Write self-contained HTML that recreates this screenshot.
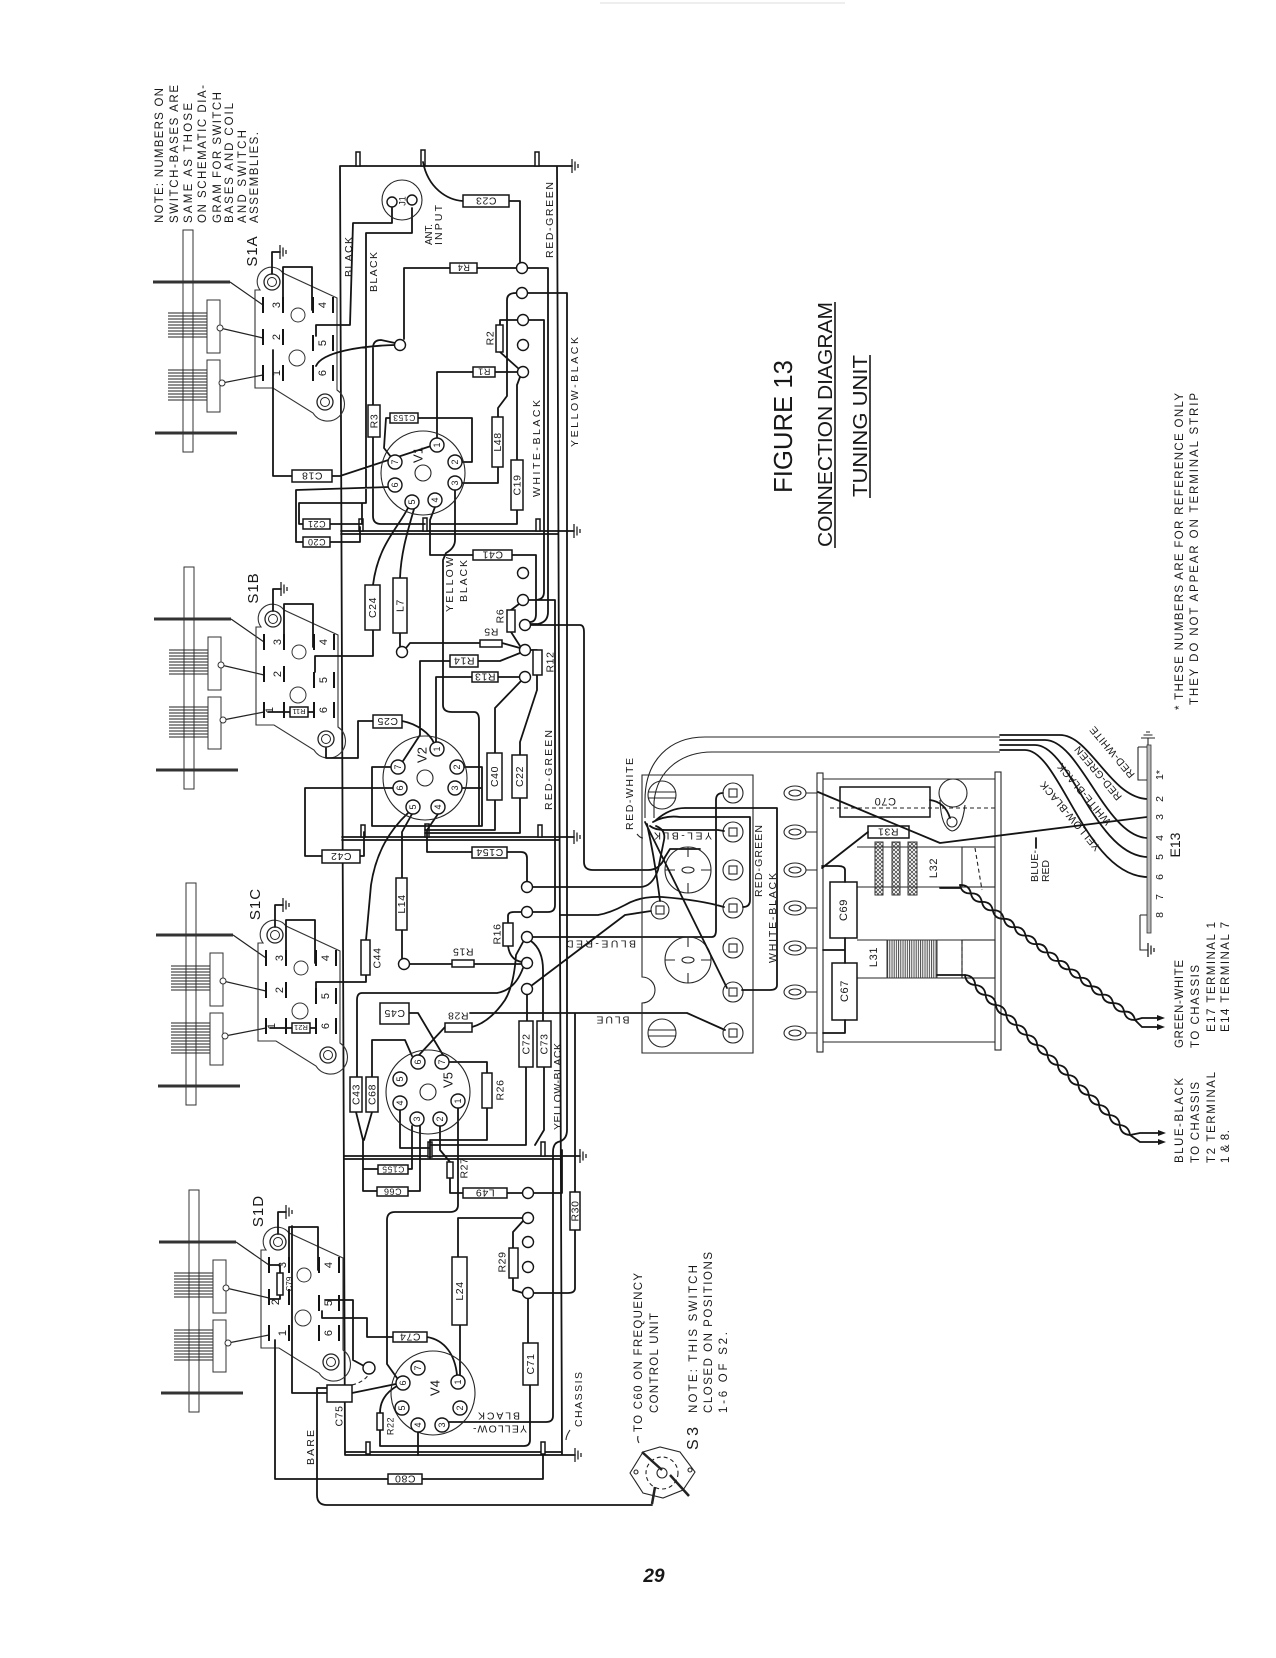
<!DOCTYPE html>
<html><head><meta charset="utf-8"><style>
html,body{margin:0;padding:0;background:#fff}
svg{display:block}
text{font-family:"Liberation Sans",Arial,sans-serif;fill:#181818}
.w{fill:none;stroke:#141414;stroke-width:1.8;stroke-linejoin:round;stroke-linecap:round}
.t{fill:none;stroke:#262626;stroke-width:1.1}
.b{fill:#fff;stroke:#141414;stroke-width:1.5}
.n{fill:#fff;stroke:#141414;stroke-width:1.4}
.c{font-size:10.5px;letter-spacing:0.6px}
.p{font-size:9px}
.d{fill:none;stroke:#222;stroke-width:1.1;stroke-dasharray:4 3}
</style></head><body>
<svg width="1276" height="1658" viewBox="0 0 1276 1658" xmlns="http://www.w3.org/2000/svg" xmlns:xlink="http://www.w3.org/1999/xlink">
<defs>
<g id="gr"><path d="M0,-7 V7 M3,-4.5 V4.5 M6,-2 V2" stroke="#222" stroke-width="1.3" fill="none"/></g>
<pattern id="hx" width="4" height="4" patternUnits="userSpaceOnUse"><path d="M0,0 L4,4 M4,0 L0,4" stroke="#333" stroke-width="0.7"/></pattern>
<pattern id="vl" width="2.2" height="4" patternUnits="userSpaceOnUse"><path d="M1,0 V4" stroke="#333" stroke-width="0.9"/></pattern>
<g id="sw">
<rect x="-89" y="-52" width="10" height="222" fill="#fff" stroke="#333"/>
<path d="M-104,31 H-65 M-104,34 H-65 M-104,37 H-65 M-104,40 H-65 M-104,43 H-65 M-104,46 H-65 M-104,49 H-65 M-104,52 H-65 M-104,55 H-65 M-104,88 H-65 M-104,91 H-65 M-104,94 H-65 M-104,97 H-65 M-104,100 H-65 M-104,103 H-65 M-104,106 H-65 M-104,109 H-65 M-104,112 H-65 M-104,115 H-65 M-104,118 H-65" stroke="#222" stroke-width="1"/>
<path d="M-119,0 H-42 M-117,151 H-35" stroke="#333" stroke-width="3"/>
<rect x="-65" y="18" width="13" height="53" fill="#fff" stroke="#333"/>
<rect x="-65" y="78" width="13" height="52" fill="#fff" stroke="#333"/>
<path d="M-52,46 L-9,56 M-50,101 L-9,93 M-42,0 L-9,23" stroke="#222" stroke-width="1.2"/>
<circle cx="-52" cy="46" r="3" fill="#fff" stroke="#333"/>
<circle cx="-50" cy="101" r="3" fill="#fff" stroke="#333"/>
<path d="M-17,8 L-12,8 A14,14 0 0 1 11,-9 L65,16 L65,108 A17,17 0 1 1 41,131 L1,106 L-17,106 Z" fill="none" stroke="#333" stroke-width="1.1"/>
<circle cx="0" cy="0" r="8" fill="#fff" stroke="#222" stroke-width="1.3"/><circle cx="0" cy="0" r="4.5" fill="none" stroke="#222"/>
<circle cx="53" cy="120" r="8" fill="#fff" stroke="#222" stroke-width="1.3"/><circle cx="53" cy="120" r="4.5" fill="none" stroke="#222"/>
<circle cx="26" cy="33" r="7" fill="none" stroke="#333"/>
<circle cx="25" cy="76" r="8" fill="none" stroke="#333"/>
<path d="M-9,15 V31 M-9,47 V63 M-9,83 V99 M41,15 V31 M41,53 V69 M41,83 V99 M11,15 V31 M11,47 V63 M11,83 V99 M61,15 V31 M61,53 V69 M61,83 V99" stroke="#141414" stroke-width="2"/>
<path d="M0,-8 V-30 H8 M11,25 V-15 H40 V28" class="w"/>
<use href="#gr" xlink:href="#gr" x="8" y="-30"/>
</g>
</defs>
<rect width="1276" height="1658" fill="#fff"/>
<path d="M600,3 H845" stroke="#ddd" stroke-width="1"/>

<!-- LEFT NOTE -->
<g font-size="11.5">
<text transform="translate(163,223) rotate(-90)" textLength="135" lengthAdjust="spacing">NOTE: NUMBERS ON</text>
<text transform="translate(178,223) rotate(-90)" textLength="138" lengthAdjust="spacing">SWITCH-BASES ARE</text>
<text transform="translate(192,223) rotate(-90)" textLength="120" lengthAdjust="spacing">SAME AS THOSE</text>
<text transform="translate(206,223) rotate(-90)" textLength="138" lengthAdjust="spacing">ON SCHEMATIC DIA-</text>
<text transform="translate(221,223) rotate(-90)" textLength="131" lengthAdjust="spacing">GRAM FOR SWITCH</text>
<text transform="translate(233,223) rotate(-90)" textLength="120" lengthAdjust="spacing">BASES AND COIL</text>
<text transform="translate(246,223) rotate(-90)" textLength="93" lengthAdjust="spacing">AND SWITCH</text>
<text transform="translate(258,223) rotate(-90)" textLength="91" lengthAdjust="spacing">ASSEMBLIES.</text>
</g>

<!-- TITLE -->
<text transform="translate(792,493) rotate(-90)" font-size="26" textLength="133" lengthAdjust="spacingAndGlyphs">FIGURE 13</text>
<text transform="translate(832,547) rotate(-90)" font-size="20" textLength="245" lengthAdjust="spacingAndGlyphs">CONNECTION DIAGRAM</text>
<text transform="translate(867,497) rotate(-90)" font-size="20" textLength="142" lengthAdjust="spacingAndGlyphs">TUNING UNIT</text>
<path d="M835,302 V548 M870,355 V498" stroke="#181818" stroke-width="1.6"/>

<g font-size="11.5">
<text transform="translate(1183,710) rotate(-90)" textLength="317" lengthAdjust="spacing">* THESE NUMBERS ARE FOR REFERENCE ONLY</text>
<text transform="translate(1198,705) rotate(-90)" textLength="312" lengthAdjust="spacing">THEY DO NOT APPEAR ON TERMINAL STRIP</text>
<text transform="translate(1183,1048) rotate(-90)" textLength="88" lengthAdjust="spacing">GREEN-WHITE</text>
<text transform="translate(1199,1048) rotate(-90)" textLength="83" lengthAdjust="spacing">TO CHASSIS</text>
<text transform="translate(1215,1032) rotate(-90)" textLength="110" lengthAdjust="spacing">E17 TERMINAL 1</text>
<text transform="translate(1229,1032) rotate(-90)" textLength="110" lengthAdjust="spacing">E14 TERMINAL 7</text>
<text transform="translate(1183,1163) rotate(-90)" textLength="85" lengthAdjust="spacing">BLUE-BLACK</text>
<text transform="translate(1199,1163) rotate(-90)" textLength="81" lengthAdjust="spacing">TO CHASSIS</text>
<text transform="translate(1215,1163) rotate(-90)" textLength="91" lengthAdjust="spacing">T2 TERMINAL</text>
<text transform="translate(1229,1163) rotate(-90)" textLength="33" lengthAdjust="spacing">1 &amp; 8.</text>
<text transform="translate(642,1432) rotate(-90)" textLength="159" lengthAdjust="spacing">TO C60 ON FREQUENCY</text>
<text transform="translate(658,1413) rotate(-90)" textLength="100" lengthAdjust="spacing">CONTROL UNIT</text>
<text transform="translate(697,1413) rotate(-90)" textLength="148" lengthAdjust="spacing">NOTE:  THIS SWITCH</text>
<text transform="translate(712,1413) rotate(-90)" textLength="161" lengthAdjust="spacing">CLOSED ON POSITIONS</text>
<text transform="translate(727,1413) rotate(-90)" textLength="81" lengthAdjust="spacing">1-6 OF S2.</text>
</g>
<text transform="translate(698,1450) rotate(-90)" font-size="16" textLength="23" lengthAdjust="spacing">S3</text>
<text x="654" y="1582" font-size="19" font-weight="bold" font-style="italic" text-anchor="middle">29</text>

<!-- CHASSIS FRAME -->
<path class="w" d="M340,166 H572 M340,166 L345,1455 M557,166 L562,1455 M341,531 H574 M341,534 H558 M342,837 H574 M342,840 H559 M344,1156 H580 M344,1159 H561 M345,1455 H575 M345,1452 H562"/>
<use href="#gr" xlink:href="#gr" x="572" y="166"/>
<use href="#gr" xlink:href="#gr" x="574" y="531"/>
<use href="#gr" xlink:href="#gr" x="574" y="837"/>
<use href="#gr" xlink:href="#gr" x="580" y="1156"/>
<use href="#gr" xlink:href="#gr" x="575" y="1455"/>
<g class="b" stroke-width="1">
<rect x="356" y="152" width="4" height="14"/><rect x="421" y="150" width="4" height="16"/><rect x="535" y="152" width="4" height="14"/>
<rect x="359" y="519" width="4" height="12"/><rect x="536" y="519" width="4" height="12"/><rect x="423" y="518" width="4" height="13"/>
<rect x="361" y="825" width="4" height="12"/><rect x="538" y="825" width="4" height="12"/><rect x="425" y="824" width="4" height="13"/>
<rect x="541" y="1142" width="4" height="14"/><rect x="428" y="1142" width="4" height="15"/>
<rect x="366" y="1442" width="4" height="12"/><rect x="541" y="1442" width="4" height="12"/>
</g>

<!-- SWITCHES -->
<use href="#sw" xlink:href="#sw" transform="translate(272,282)"/>
<use href="#sw" xlink:href="#sw" transform="translate(273,619)"/>
<use href="#sw" xlink:href="#sw" transform="translate(275,935)"/>
<use href="#sw" xlink:href="#sw" transform="translate(278,1242)"/>
<g font-size="11">
<g transform="translate(272,282)">
<text transform="translate(4,23) rotate(-90)" text-anchor="middle" dy="4">3</text><text transform="translate(50,23) rotate(-90)" text-anchor="middle" dy="4">4</text>
<text transform="translate(4,55) rotate(-90)" text-anchor="middle" dy="4">2</text><text transform="translate(50,61) rotate(-90)" text-anchor="middle" dy="4">5</text>
<text transform="translate(4,91) rotate(-90)" text-anchor="middle" dy="4">1</text><text transform="translate(50,91) rotate(-90)" text-anchor="middle" dy="4">6</text>
<text transform="translate(-20,-31) rotate(-90)" text-anchor="middle" dy="5" font-size="15" letter-spacing="1">S1A</text>
</g>
<g transform="translate(273,619)">
<text transform="translate(4,23) rotate(-90)" text-anchor="middle" dy="4">3</text><text transform="translate(50,23) rotate(-90)" text-anchor="middle" dy="4">4</text>
<text transform="translate(4,55) rotate(-90)" text-anchor="middle" dy="4">2</text><text transform="translate(50,61) rotate(-90)" text-anchor="middle" dy="4">5</text>
<text transform="translate(-4,91) rotate(-90)" text-anchor="middle" dy="4">1</text><text transform="translate(50,91) rotate(-90)" text-anchor="middle" dy="4">6</text>
<text transform="translate(-20,-31) rotate(-90)" text-anchor="middle" dy="5" font-size="15" letter-spacing="1">S1B</text>
<path d="M-5,93 H17 M35,93 H41" class="w"/><rect x="17" y="88" width="18" height="10" class="b"/>
<text transform="translate(26,93) rotate(180)" text-anchor="middle" dy="3" font-size="7.5">R11</text>
</g>
<g transform="translate(275,935)">
<text transform="translate(4,23) rotate(-90)" text-anchor="middle" dy="4">3</text><text transform="translate(50,23) rotate(-90)" text-anchor="middle" dy="4">4</text>
<text transform="translate(4,55) rotate(-90)" text-anchor="middle" dy="4">2</text><text transform="translate(50,61) rotate(-90)" text-anchor="middle" dy="4">5</text>
<text transform="translate(-4,91) rotate(-90)" text-anchor="middle" dy="4">1</text><text transform="translate(50,91) rotate(-90)" text-anchor="middle" dy="4">6</text>
<text transform="translate(-20,-31) rotate(-90)" text-anchor="middle" dy="5" font-size="15" letter-spacing="1">S1C</text>
<path d="M-5,93 H17 M35,93 H41" class="w"/><rect x="17" y="88" width="18" height="10" class="b"/>
<text transform="translate(26,93) rotate(180)" text-anchor="middle" dy="3" font-size="7.5">R21</text>
</g>
<g transform="translate(278,1242)">
<text transform="translate(4,23) rotate(-90)" text-anchor="middle" dy="4">3</text><text transform="translate(50,23) rotate(-90)" text-anchor="middle" dy="4">4</text>
<text transform="translate(-3,60) rotate(-90)" text-anchor="middle" dy="4">2</text><text transform="translate(50,61) rotate(-90)" text-anchor="middle" dy="4">5</text>
<text transform="translate(4,91) rotate(-90)" text-anchor="middle" dy="4">1</text><text transform="translate(50,91) rotate(-90)" text-anchor="middle" dy="4">6</text>
<text transform="translate(-20,-31) rotate(-90)" text-anchor="middle" dy="5" font-size="15" letter-spacing="1">S1D</text>
<path d="M2,31 V23 H-9 M2,53 V57 H-9" class="w"/><rect x="-1" y="31" width="6" height="22" class="b"/>
<text transform="translate(11,42) rotate(-90)" text-anchor="middle" dy="3" font-size="8">C79</text>
</g>
</g>

<!-- WIRES -->
<path class="w" d="
M392,208 V223 H353 L350,325 H316 V336
M412,208 V233 H366 V503
M303,524 H299 V503 H366
M330,524 H362 V503
M463,201 C447,200 428,188 423,162
M509,201 H520 V262
M450,268 H404 V339
M477,268 H516
M528,268 H548 V612 Q548,622 538,624 H531
M528,293 H567 V1130 Q567,1140 558,1142 Q553,1144 553,1152 V1416 Q553,1422 546,1422 H449
M529,320 H544 V592 Q544,600 535,600 H529
M408,508 C398,528 378,545 373,585
M414,509 C408,530 401,552 400,578
M435,507 L430,520 V555 H473
M512,555 H536 V614 Q536,622 530,622
M462,483 H498 V467
M498,417 V408 L507,396 V300 Q507,293 516,293
M455,490 V540 Q455,548 446,553 L443,560 V705 Q443,712 452,712 H474 Q479,712 479,720 V826
M462,462 H472 V418 H418
M390,418 H386 L384,448 L391,457
M437,438 V372 H473
M495,372 H518
M500,325 V320 H518
M500,352 L519,369
M520,377 L517,385 V460
M517,510 V524 H430
M292,476 H273 V350
M332,476 H340 L431,446
M389,487 L296,490 V542 H303
M330,542 H360 V527
M373,405 V348 Q373,340 381,340 L395,343
M373,437 V516 Q373,524 381,524 H425
M316,366 C322,352 360,346 395,345
M373,630 V656 H315 V672
M400,633 V647
M406,648 L410,643 H480
M502,643 L520,648
M511,610 L519,604
M511,632 L520,646
M478,661 H500 L520,653
M450,661 H420 V735 L403,761
M472,677 H436 V742
M498,677 H520
M521,681 L495,708 V753
M537,650 H530
M537,675 V690 L520,742 V755
M495,800 V830 H425
M520,798 V833 H425
M438,814 L427,830
M427,830 V852 H472
M507,852 H521 Q527,852 527,858 V882
M464,767 H482 V826 H372 V767 H391
M462,788 H482
M393,788 H305 V856 H322
M360,856 H364 V832
M402,721 C418,724 430,734 434,743
M373,721 H358 V758 H326 V748
M412,814 L402,832 V878
M408,813 C390,830 376,852 371,885 L366,940
M402,930 V958
M409,964 H452
M474,964 H522
M366,975 V982 H316 V990
M508,923 V916 Q508,912 514,912 H522
M508,946 Q510,960 522,962
M528,600 H555 V905 Q555,912 548,912 H532
M530,625 H580 Q584,625 584,632 V862 Q584,870 593,870 H648 Q660,870 665,857 L670,849 H700
M532,887 H640 Q652,887 658,870 L664,840 Q666,830 656,826
M532,937 H712 Q716,937 716,930 V800 Q716,793 723,793
M560,915 H598 Q610,913 625,905 Q640,896 662,897 Q700,900 724,907
M531,986 L625,915 L651,911
M470,1013 H687 L725,1030
M523,968 Q515,990 497,993 H362 Q357,993 357,1000 V1077
M472,1027 Q490,1022 505,1000 Q514,985 516,955 L523,942
M531,941 Q543,950 543,970 V1021
M527,994 V1021
M409,1013 H418 L443,1055
M445,1027 L419,1055
M372,1077 V1040 H405 L412,1056
M356,1112 L363,1140 V1169 H378
M372,1112 L364,1140
M363,1169 V1191 H377
M408,1169 H412 V1126
M408,1191 H420 V1126
M449,1062 H487 V1073
M487,1108 V1140 H430
M400,1110 V1148 H430
M430,1140 V1158
M526,1067 V1145 H430
M544,1067 V1130 L535,1145
M458,1108 V1205 Q458,1212 450,1212 H395 Q387,1212 387,1220 V1364 L397,1378
M440,1126 V1150 L450,1162
M450,1178 V1193 H463
M507,1193 H523
M533,1193 H562 V1150
M575,1192 V1013
M575,1230 V1288 Q575,1293 568,1293 H533
M523,1218 H458 V1257
M523,1221 L513,1232 V1248
M513,1278 V1290 L523,1293
M528,1298 V1343
M530,1385 V1440 Q530,1446 524,1446 H380 V1430
M380,1413 C380,1398 390,1390 397,1386
M460,1325 V1375
M427,1337 C445,1340 455,1355 457,1375
M393,1337 H367 V1318 H322 V1311
M325,1300 H353 V1360 L364,1366
M352,1393 L396,1384
M327,1393 H292 V1226
M388,1479 H275 V1340
M422,1479 H543 V1455
M327,1388 H317 V1495 Q317,1505 327,1505 H652
M418,1432 V1455
"/>
<path class="d" d="M352,1385 Q364,1382 369,1374"/>
<path d="M570,1430 Q566,1436 566,1440" class="t"/>

<!-- J1 -->
<circle cx="402" cy="200" r="20" class="t" stroke-width="1.3"/>
<circle cx="392" cy="202" r="5" class="n"/><circle cx="412" cy="200" r="5" class="n"/>
<text transform="translate(402,201) rotate(-90)" text-anchor="middle" dy="3.5" font-size="9">J1</text>

<!-- NODES -->
<g class="n">
<circle cx="400" cy="345" r="5.5"/><circle cx="522" cy="268" r="5.5"/><circle cx="522" cy="293" r="5.5"/><circle cx="523" cy="320" r="5.5"/><circle cx="523" cy="345" r="5.5"/><circle cx="523" cy="372" r="5.5"/>
<circle cx="402" cy="652" r="5.5"/><circle cx="523" cy="573" r="5.5"/><circle cx="523" cy="600" r="5.5"/><circle cx="525" cy="625" r="5.5"/><circle cx="525" cy="650" r="5.5"/><circle cx="525" cy="677" r="5.5"/>
<circle cx="527" cy="887" r="5.5"/><circle cx="527" cy="912" r="5.5"/><circle cx="527" cy="937" r="5.5"/><circle cx="527" cy="963" r="5.5"/><circle cx="527" cy="989" r="5.5"/><circle cx="404" cy="964" r="5.5"/>
<circle cx="528" cy="1193" r="5.5"/><circle cx="528" cy="1218" r="5.5"/><circle cx="528" cy="1242" r="5.5"/><circle cx="528" cy="1267" r="5.5"/><circle cx="528" cy="1293" r="5.5"/>
<circle cx="369" cy="1368" r="6"/>
</g>

<!-- BOXES -->
<g class="b">
<rect x="463" y="195" width="46" height="12"/><rect x="450" y="263" width="27" height="10"/><rect x="473" y="367" width="22" height="10"/>
<rect x="496" y="325" width="7" height="27"/><rect x="368" y="405" width="12" height="32"/><rect x="390" y="413" width="28" height="10"/>
<rect x="492" y="417" width="11" height="50"/><rect x="511" y="460" width="12" height="50"/><rect x="292" y="470" width="40" height="12"/>
<rect x="303" y="519" width="27" height="10"/><rect x="303" y="537" width="27" height="10"/><rect x="473" y="550" width="39" height="10"/>
<rect x="365" y="585" width="15" height="45"/><rect x="393" y="578" width="14" height="55"/><rect x="507" y="610" width="8" height="22"/>
<rect x="480" y="640" width="22" height="7"/><rect x="450" y="655" width="28" height="12"/><rect x="472" y="672" width="26" height="10"/>
<rect x="533" y="650" width="9" height="25"/><rect x="373" y="715" width="29" height="13"/><rect x="487" y="753" width="15" height="47"/>
<rect x="512" y="755" width="15" height="43"/><rect x="322" y="850" width="38" height="13"/><rect x="472" y="847" width="35" height="11"/>
<rect x="396" y="878" width="11" height="52"/><rect x="361" y="940" width="9" height="35"/><rect x="452" y="960" width="22" height="7"/>
<rect x="503" y="923" width="10" height="23"/><rect x="380" y="1003" width="29" height="21"/><rect x="445" y="1023" width="27" height="9"/>
<rect x="350" y="1077" width="12" height="35"/><rect x="366" y="1077" width="12" height="35"/><rect x="482" y="1073" width="10" height="35"/>
<rect x="519" y="1021" width="14" height="46"/><rect x="537" y="1021" width="14" height="46"/><rect x="378" y="1165" width="30" height="9"/>
<rect x="447" y="1162" width="6" height="16"/><rect x="377" y="1187" width="31" height="9"/><rect x="463" y="1188" width="44" height="10"/>
<rect x="570" y="1192" width="10" height="38"/><rect x="509" y="1248" width="9" height="30"/><rect x="452" y="1257" width="15" height="68"/>
<rect x="393" y="1332" width="34" height="10"/><rect x="523" y="1343" width="15" height="42"/><rect x="327" y="1385" width="25" height="17"/>
<rect x="377" y="1413" width="6" height="17"/><rect x="388" y="1474" width="34" height="10"/>
</g>

<!-- BOX LABELS -->
<g class="c">
<text transform="translate(486,201) rotate(180)" text-anchor="middle" dy="3.7">C23</text>
<text transform="translate(463.5,268) rotate(180)" text-anchor="middle" dy="3.5" font-size="9">R4</text>
<text transform="translate(484,372) rotate(180)" text-anchor="middle" dy="3.5" font-size="9">R1</text>
<text transform="translate(490,338) rotate(-90)" text-anchor="middle" dy="3.7">R2</text>
<text transform="translate(374,421) rotate(-90)" text-anchor="middle" dy="3.7">R3</text>
<text transform="translate(404,418) rotate(180)" text-anchor="middle" dy="3.2" font-size="8.5">C153</text>
<text transform="translate(497.5,442) rotate(-90)" text-anchor="middle" dy="3.7">L48</text>
<text transform="translate(517,485) rotate(-90)" text-anchor="middle" dy="3.7">C19</text>
<text transform="translate(312,476) rotate(180)" text-anchor="middle" dy="3.7">C18</text>
<text transform="translate(316.5,524) rotate(180)" text-anchor="middle" dy="3.2" font-size="9">C21</text>
<text transform="translate(316.5,542) rotate(180)" text-anchor="middle" dy="3.2" font-size="9">C20</text>
<text transform="translate(492.5,555) rotate(180)" text-anchor="middle" dy="3.7">C41</text>
<text transform="translate(372.5,607.5) rotate(-90)" text-anchor="middle" dy="3.7">C24</text>
<text transform="translate(400,605.5) rotate(-90)" text-anchor="middle" dy="3.7">L7</text>
<text transform="translate(500,616) rotate(-90)" text-anchor="middle" dy="3.7">R6</text>
<text transform="translate(491,632) rotate(180)" text-anchor="middle" dy="3.7">R5</text>
<text transform="translate(464,661) rotate(180)" text-anchor="middle" dy="3.7">R14</text>
<text transform="translate(485,677) rotate(180)" text-anchor="middle" dy="3.7">R13</text>
<text transform="translate(550,662) rotate(-90)" text-anchor="middle" dy="3.7">R12</text>
<text transform="translate(387.5,721.5) rotate(180)" text-anchor="middle" dy="3.7">C25</text>
<text transform="translate(494.5,776.5) rotate(-90)" text-anchor="middle" dy="3.7">C40</text>
<text transform="translate(519.5,776.5) rotate(-90)" text-anchor="middle" dy="3.7">C22</text>
<text transform="translate(341,856.5) rotate(180)" text-anchor="middle" dy="3.7">C42</text>
<text transform="translate(489.5,852.5) rotate(180)" text-anchor="middle" dy="3.7">C154</text>
<text transform="translate(401.5,904) rotate(-90)" text-anchor="middle" dy="3.7">L14</text>
<text transform="translate(377,958) rotate(-90)" text-anchor="middle" dy="3.7">C44</text>
<text transform="translate(463,952) rotate(180)" text-anchor="middle" dy="3.7">R15</text>
<text transform="translate(497,934) rotate(-90)" text-anchor="middle" dy="3.7">R16</text>
<text transform="translate(394.5,1013.5) rotate(180)" text-anchor="middle" dy="3.7">C45</text>
<text transform="translate(458,1016) rotate(180)" text-anchor="middle" dy="3.7">R28</text>
<text transform="translate(356,1094.5) rotate(-90)" text-anchor="middle" dy="3.7">C43</text>
<text transform="translate(372,1094.5) rotate(-90)" text-anchor="middle" dy="3.7">C68</text>
<text transform="translate(500,1090) rotate(-90)" text-anchor="middle" dy="3.7">R26</text>
<text transform="translate(526,1044) rotate(-90)" text-anchor="middle" dy="3.7">C72</text>
<text transform="translate(544,1044) rotate(-90)" text-anchor="middle" dy="3.7">C73</text>
<text transform="translate(393,1169.5) rotate(180)" text-anchor="middle" dy="3.2" font-size="8.5">C155</text>
<text transform="translate(464,1168) rotate(-90)" text-anchor="middle" dy="3.7">R27</text>
<text transform="translate(392.5,1191.5) rotate(180)" text-anchor="middle" dy="3.2" font-size="9">C66</text>
<text transform="translate(485,1193) rotate(180)" text-anchor="middle" dy="3.7">L49</text>
<text transform="translate(575,1211) rotate(-90)" text-anchor="middle" dy="3.7">R30</text>
<text transform="translate(502,1262) rotate(-90)" text-anchor="middle" dy="3.7">R29</text>
<text transform="translate(459.5,1291) rotate(-90)" text-anchor="middle" dy="3.7">L24</text>
<text transform="translate(410,1337) rotate(180)" text-anchor="middle" dy="3.7">C74</text>
<text transform="translate(530.5,1364) rotate(-90)" text-anchor="middle" dy="3.7">C71</text>
<text transform="translate(339,1416) rotate(-90)" text-anchor="middle" dy="3.7">C75</text>
<text transform="translate(390,1426) rotate(-90)" text-anchor="middle" dy="3.5" font-size="9">R22</text>
<text transform="translate(405,1479) rotate(180)" text-anchor="middle" dy="3.7">C80</text>
</g>

<!-- WIRE LABELS -->
<g font-size="10.5">
<text transform="translate(352,277) rotate(-90)" textLength="40" lengthAdjust="spacing">BLACK</text>
<text transform="translate(377,292) rotate(-90)" textLength="40" lengthAdjust="spacing">BLACK</text>
<text transform="translate(432,245) rotate(-90)" textLength="21" lengthAdjust="spacingAndGlyphs">ANT.</text>
<text transform="translate(442,245) rotate(-90)" textLength="40" lengthAdjust="spacing">INPUT</text>
<text transform="translate(553,258) rotate(-90)" textLength="76" lengthAdjust="spacing">RED-GREEN</text>
<text transform="translate(578,447) rotate(-90)" textLength="110" lengthAdjust="spacing">YELLOW-BLACK</text>
<text transform="translate(540,497) rotate(-90)" textLength="97" lengthAdjust="spacing">WHITE-BLACK</text>
<text transform="translate(453,612) rotate(-90)" textLength="55" lengthAdjust="spacing">YELLOW</text>
<text transform="translate(467,602) rotate(-90)" textLength="42" lengthAdjust="spacing">BLACK</text>
<text transform="translate(552,810) rotate(-90)" textLength="80" lengthAdjust="spacing">RED-GREEN</text>
<text transform="translate(561,1130) rotate(-90)" textLength="87" lengthAdjust="spacing">YELLOW-BLACK</text>
<text transform="translate(582,1427) rotate(-90)" textLength="55" lengthAdjust="spacing">CHASSIS</text>
<text transform="translate(314,1465) rotate(-90)" textLength="35" lengthAdjust="spacing">BARE</text>
<text transform="translate(499,1416) rotate(180)" text-anchor="middle" dy="3.5" textLength="42" lengthAdjust="spacing">BLACK</text>
<text transform="translate(500,1429) rotate(180)" text-anchor="middle" dy="3.5" textLength="54" lengthAdjust="spacing">YELLOW-</text>
<text transform="translate(601,944) rotate(180)" text-anchor="middle" dy="3.5" textLength="70" lengthAdjust="spacing">BLUE-RED</text>
<text transform="translate(613,1020) rotate(180)" text-anchor="middle" dy="3.5" textLength="33" lengthAdjust="spacing">BLUE</text>
<text transform="translate(683,836) rotate(180)" text-anchor="middle" dy="3.5" textLength="58" lengthAdjust="spacing">YEL-BLK</text>
<text transform="translate(633,830) rotate(-90)" textLength="72" lengthAdjust="spacing">RED-WHITE</text>
<text transform="translate(762,897) rotate(-90)" textLength="72" lengthAdjust="spacing">RED-GREEN</text>
<text transform="translate(776,963) rotate(-90)" textLength="90" lengthAdjust="spacing">WHITE-BLACK</text>
<text transform="translate(1038,882) rotate(-90)" textLength="32" lengthAdjust="spacing">BLUE-</text>
<text transform="translate(1049,882) rotate(-90)" textLength="22" lengthAdjust="spacing">RED</text>
</g>

<!-- TUBES -->
<g transform="translate(423,473)">
<circle r="42" class="t"/><circle r="8" class="t"/>
<circle cx="14" cy="-28" r="7" class="n"/><circle cx="32" cy="-11" r="7" class="n"/><circle cx="32" cy="10" r="7" class="n"/><circle cx="12" cy="27" r="7" class="n"/><circle cx="-11" cy="29" r="7" class="n"/><circle cx="-28" cy="12" r="7" class="n"/><circle cx="-28" cy="-11" r="7" class="n"/>
<g class="p" text-anchor="middle">
<text transform="translate(14,-28) rotate(-90)" dy="3.2">1</text><text transform="translate(32,-11) rotate(-90)" dy="3.2">2</text><text transform="translate(32,10) rotate(-90)" dy="3.2">3</text><text transform="translate(12,27) rotate(-90)" dy="3.2">4</text><text transform="translate(-11,29) rotate(-90)" dy="3.2">5</text><text transform="translate(-28,12) rotate(-90)" dy="3.2">6</text><text transform="translate(-28,-11) rotate(-90)" dy="3.2">7</text>
</g>
<text transform="translate(-5,-18) rotate(-90)" text-anchor="middle" dy="4.5" font-size="13">V1</text>
</g>
<g transform="translate(425,778)">
<circle r="42" class="t"/><circle r="8" class="t"/>
<circle cx="12" cy="-29" r="7" class="n"/><circle cx="32" cy="-11" r="7" class="n"/><circle cx="30" cy="10" r="7" class="n"/><circle cx="13" cy="29" r="7" class="n"/><circle cx="-12" cy="29" r="7" class="n"/><circle cx="-25" cy="10" r="7" class="n"/><circle cx="-27" cy="-11" r="7" class="n"/>
<g class="p" text-anchor="middle">
<text transform="translate(12,-29) rotate(-90)" dy="3.2">1</text><text transform="translate(32,-11) rotate(-90)" dy="3.2">2</text><text transform="translate(30,10) rotate(-90)" dy="3.2">3</text><text transform="translate(13,29) rotate(-90)" dy="3.2">4</text><text transform="translate(-12,29) rotate(-90)" dy="3.2">5</text><text transform="translate(-25,10) rotate(-90)" dy="3.2">6</text><text transform="translate(-27,-11) rotate(-90)" dy="3.2">7</text>
</g>
<text transform="translate(-3,-23) rotate(-90)" text-anchor="middle" dy="4.5" font-size="13">V2</text>
</g>
<g transform="translate(428,1092)">
<circle r="42" class="t"/><circle r="8" class="t"/>
<circle cx="-10" cy="-30" r="7" class="n"/><circle cx="14" cy="-30" r="7" class="n"/><circle cx="-28" cy="-13" r="7" class="n"/><circle cx="30" cy="9" r="7" class="n"/><circle cx="-28" cy="11" r="7" class="n"/><circle cx="-11" cy="27" r="7" class="n"/><circle cx="12" cy="27" r="7" class="n"/>
<g class="p" text-anchor="middle">
<text transform="translate(-10,-30) rotate(-90)" dy="3.2">6</text><text transform="translate(14,-30) rotate(-90)" dy="3.2">7</text><text transform="translate(-28,-13) rotate(-90)" dy="3.2">5</text><text transform="translate(30,9) rotate(-90)" dy="3.2">1</text><text transform="translate(-28,11) rotate(-90)" dy="3.2">4</text><text transform="translate(-11,27) rotate(-90)" dy="3.2">3</text><text transform="translate(12,27) rotate(-90)" dy="3.2">2</text>
</g>
<text transform="translate(20,-12) rotate(-90)" text-anchor="middle" dy="4.5" font-size="13">V5</text>
</g>
<g transform="translate(433,1393)">
<circle r="42" class="t"/>
<circle cx="-15" cy="-25" r="7" class="n"/><circle cx="25" cy="-11" r="7" class="n"/><circle cx="-30" cy="-10" r="7" class="n"/><circle cx="-31" cy="15" r="7" class="n"/><circle cx="27" cy="15" r="7" class="n"/><circle cx="-15" cy="32" r="7" class="n"/><circle cx="9" cy="32" r="7" class="n"/>
<g class="p" text-anchor="middle">
<text transform="translate(-15,-25) rotate(-90)" dy="3.2">7</text><text transform="translate(25,-11) rotate(-90)" dy="3.2">1</text><text transform="translate(-30,-10) rotate(-90)" dy="3.2">6</text><text transform="translate(-31,15) rotate(-90)" dy="3.2">5</text><text transform="translate(27,15) rotate(-90)" dy="3.2">2</text><text transform="translate(-15,32) rotate(-90)" dy="3.2">4</text><text transform="translate(9,32) rotate(-90)" dy="3.2">3</text>
</g>
<text transform="translate(2,-5) rotate(-90)" text-anchor="middle" dy="4.5" font-size="13">V4</text>
</g>

<!-- S3 -->
<path d="M630,1473 L643,1452 L660,1447 L680,1452 L695,1472 L683,1490 L663,1498 L643,1493 Z" class="t" stroke-width="1.3"/>
<circle cx="662" cy="1473" r="16" class="d"/>
<circle cx="662" cy="1473" r="5" class="t"/>
<circle cx="636" cy="1472" r="2" class="t"/><circle cx="690" cy="1470" r="2" class="t"/>
<path d="M642,1452 L662,1470 M655,1487 L652,1504 M670,1475 L689,1496" stroke="#222" stroke-width="2.5" fill="none"/>
<path d="M639,1443 Q637,1440 638,1436" class="t"/>

<!-- TERMINAL BOARD -->
<path d="M642,775 H753 V1053 H642 V1003 A13,13 0 0 0 642,977 Z" class="t" stroke-width="1.2"/>
<circle cx="662" cy="795" r="14" class="t"/><path d="M648,792 H676 M648,798 H676" class="t"/>
<circle cx="662" cy="1033" r="14" class="t"/><path d="M648,1030 H676 M648,1036 H676" class="t"/>
<circle cx="688" cy="870" r="23" class="t"/><path d="M688,847 V857 M688,883 V893 M665,870 H675 M701,870 H711" class="t" stroke-width="1.5"/><ellipse cx="688" cy="870" rx="6" ry="3" class="t"/>
<circle cx="688" cy="960" r="23" class="t"/><path d="M688,937 V947 M688,973 V983 M665,960 H675 M701,960 H711" class="t" stroke-width="1.5"/><ellipse cx="688" cy="960" rx="6" ry="3" class="t"/>
<circle cx="660" cy="910" r="9" class="t"/><rect x="656" y="906" width="8" height="8" class="t"/>
<g class="t">
<circle cx="733" cy="793" r="10"/><rect x="729" y="789" width="8" height="8"/>
<circle cx="733" cy="832" r="10"/><rect x="729" y="828" width="8" height="8"/>
<circle cx="733" cy="870" r="10"/><rect x="729" y="866" width="8" height="8"/>
<circle cx="733" cy="908" r="10"/><rect x="729" y="904" width="8" height="8"/>
<circle cx="733" cy="948" r="10"/><rect x="729" y="944" width="8" height="8"/>
<circle cx="733" cy="992" r="10"/><rect x="729" y="988" width="8" height="8"/>
<circle cx="733" cy="1033" r="10"/><rect x="729" y="1029" width="8" height="8"/>
</g>
<!-- bundle -->
<path d="M645,818 V800 C645,760 670,737 705,737 H1000 M654,818 V802 C657,768 684,752 712,752 H1000" class="t" stroke-width="1.2"/>
<path class="w" d="
M650,826 Q655,830 665,830 H718 L724,831
M653,822 Q665,815 680,817 H750 V900 Q750,907 743,907
M656,820 Q670,808 685,808 H777 V985 Q777,990 770,990 H742
M645,822 L727,988
M647,824 Q655,860 660,901
"/>
<path d="M637,834 Q640,838 643,838" class="t"/>

<!-- COIL ASSEMBLY -->
<g class="t">
<rect x="817" y="773" width="6" height="279" fill="#fff"/>
<rect x="995" y="772" width="6" height="278" fill="#fff"/>
<path d="M823,779 H995 M823,1042 H995 M857,847 H995 M857,887 H995 M857,940 H995 M857,978 H995 M806,793 H817 M806,832 H817 M806,870 H817 M806,908 H817 M806,948 H817 M806,992 H817 M806,1033 H817"/>
<ellipse cx="795" cy="793" rx="11" ry="7"/><ellipse cx="795" cy="793" rx="6" ry="3"/>
<ellipse cx="795" cy="832" rx="11" ry="7"/><ellipse cx="795" cy="832" rx="6" ry="3"/>
<ellipse cx="795" cy="870" rx="11" ry="7"/><ellipse cx="795" cy="870" rx="6" ry="3"/>
<ellipse cx="795" cy="908" rx="11" ry="7"/><ellipse cx="795" cy="908" rx="6" ry="3"/>
<ellipse cx="795" cy="948" rx="11" ry="7"/><ellipse cx="795" cy="948" rx="6" ry="3"/>
<ellipse cx="795" cy="992" rx="11" ry="7"/><ellipse cx="795" cy="992" rx="6" ry="3"/>
<ellipse cx="795" cy="1033" rx="11" ry="7"/><ellipse cx="795" cy="1033" rx="6" ry="3"/>
<rect x="962" y="847" width="33" height="40"/>
<rect x="962" y="940" width="33" height="38"/>
<circle cx="953" cy="793" r="14" fill="#fff"/>
<path d="M940,800 Q941,828 952,831 Q962,830 965,805"/>
<circle cx="952" cy="822" r="5"/>
</g>
<rect x="840" y="787" width="90" height="30" class="b"/>
<path d="M830,808 H995" class="d"/>
<rect x="868" y="826" width="41" height="12" class="b"/>
<rect x="875" y="842" width="8" height="53" fill="url(#hx)" stroke="#333"/>
<rect x="892" y="842" width="8" height="53" fill="url(#hx)" stroke="#333"/>
<rect x="908" y="842" width="9" height="53" fill="url(#hx)" stroke="#333"/>
<rect x="830" y="882" width="27" height="56" class="b"/>
<rect x="887" y="940" width="50" height="38" fill="url(#vl)" stroke="#333"/>
<rect x="832" y="963" width="25" height="57" class="b"/>
<path d="M975,848 L982,890 M962,940 V978" class="d"/>
<path class="w" d="M818,792 L940,843 L1147,817 M868,832 L822,868 M930,800 Q945,802 950,818 M845,882 V870 Q845,866 838,866 H822 M845,938 V950 H823 M845,963 V950 M845,1020 V1033 H823 M940,888 H960 M937,975 H965 M1036,848 V838"/>
<g class="c">
<text transform="translate(885,802) rotate(180)" text-anchor="middle" dy="4" font-size="11">C70</text>
<text transform="translate(888,832) rotate(180)" text-anchor="middle" dy="3.5">R31</text>
<text transform="translate(933,868) rotate(-90)" text-anchor="middle" dy="4" font-size="11">L32</text>
<text transform="translate(843,910) rotate(-90)" text-anchor="middle" dy="4" font-size="11">C69</text>
<text transform="translate(873,957) rotate(-90)" text-anchor="middle" dy="4" font-size="11">L31</text>
<text transform="translate(844,991) rotate(-90)" text-anchor="middle" dy="4" font-size="11">C67</text>
</g>

<!-- E13 -->
<path class="w" d="
M1000,735 H1060 C1090,735 1110,797 1147,799
M1000,740 H1045 C1080,740 1105,836 1147,838
M1000,745 H1035 C1070,745 1095,855 1147,857
M1000,750 H1025 C1060,750 1085,875 1147,877
"/>
<rect x="1147" y="745" width="4" height="188" fill="#bbb" stroke="#333" stroke-width="0.8"/>
<path d="M1148,745 V738 M1141,738 H1155 M1143.5,735 H1152.5 M1146,732 H1150 M1138,747 H1147 M1138,747 V780 H1147 M1140,915 H1147 M1140,915 V950 H1148" class="t" stroke-width="1.2"/>
<use href="#gr" xlink:href="#gr" x="1148" y="950"/>
<g font-size="10.5" text-anchor="middle">
<text transform="translate(1159,775) rotate(-90)" dy="4">1*</text>
<text transform="translate(1159,799) rotate(-90)" dy="4">2</text>
<text transform="translate(1159,817) rotate(-90)" dy="4">3</text>
<text transform="translate(1159,838) rotate(-90)" dy="4">4</text>
<text transform="translate(1159,857) rotate(-90)" dy="4">5</text>
<text transform="translate(1159,877) rotate(-90)" dy="4">6</text>
<text transform="translate(1159,897) rotate(-90)" dy="4">7</text>
<text transform="translate(1159,915) rotate(-90)" dy="4">8</text>
<text transform="translate(1175,845) rotate(-90)" dy="5" font-size="14">E13</text>
</g>
<g font-size="10.5" text-anchor="middle" letter-spacing="0.5">
<text transform="translate(1112,752) rotate(230)" dy="3.5">RED-WHITE</text>
<text transform="translate(1098,773) rotate(230)" dy="3.5">RED-GREEN</text>
<text transform="translate(1084,794) rotate(230)" dy="3.5">WHITE-BLACK</text>
<text transform="translate(1070,816) rotate(230)" dy="3.5">YELLOW-BLACK</text>
</g>

<!-- TWISTED PAIRS -->
<path class="w" stroke-width="1.4" d="M960,885 Q961.8,894 970.9,893.4 T981.9,901.9 T992.8,910.3 T1003.8,918.8 T1014.7,927.2 T1025.6,935.6 T1036.6,944.1 T1047.5,952.5 T1058.4,960.9 T1069.4,969.4 T1080.3,977.8 T1091.3,986.3 T1102.2,994.7 T1113.1,1003.1 T1124.1,1011.6 T1135,1020 L1142,1018 H1161"/>
<path class="w" stroke-width="1.4" d="M960,885 Q969.1,884.5 970.9,893.4 T981.9,901.9 T992.8,910.3 T1003.8,918.8 T1014.7,927.2 T1025.6,935.6 T1036.6,944.1 T1047.5,952.5 T1058.4,960.9 T1069.4,969.4 T1080.3,977.8 T1091.3,986.3 T1102.2,994.7 T1113.1,1003.1 T1124.1,1011.6 T1135,1020 L1142,1027 H1161"/>
<path class="w" stroke-width="1.4" d="M965,975 Q966,984.3 975.3,985 T985.6,995 T995.9,1005 T1006.3,1015 T1016.6,1025 T1026.9,1035 T1037.2,1045 T1047.5,1055 T1057.8,1065 T1068.1,1075 T1078.4,1085 T1088.8,1095 T1099.1,1105 T1109.4,1115 T1119.7,1125 T1130,1135 L1140,1133 H1162"/>
<path class="w" stroke-width="1.4" d="M965,975 Q974.3,975.7 975.3,985 T985.6,995 T995.9,1005 T1006.3,1015 T1016.6,1025 T1026.9,1035 T1037.2,1045 T1047.5,1055 T1057.8,1065 T1068.1,1075 T1078.4,1085 T1088.8,1095 T1099.1,1105 T1109.4,1115 T1119.7,1125 T1130,1135 L1140,1142 H1162"/>
<path d="M1165,1018 L1157,1015 L1157,1021 Z M1165,1027 L1157,1024 L1157,1030 Z M1166,1133 L1158,1130 L1158,1136 Z M1166,1142 L1158,1139 L1158,1145 Z" fill="#161616"/>
</svg>
</body></html>
